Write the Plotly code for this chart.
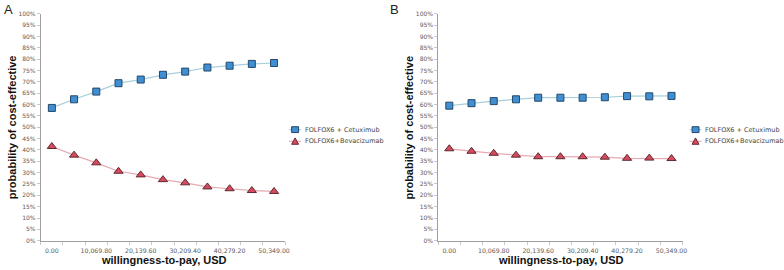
import plotly.graph_objects as go

# ---------------- data ----------------
wtp = [0.00, 5034.90, 10069.80, 15104.70, 20139.60, 25174.50,
       30209.40, 35244.30, 40279.20, 45314.10, 50349.00]
tick_vals = [0.00, 10069.80, 20139.60, 30209.40, 40279.20, 50349.00]
tick_text = ["0.00", "10,069.80", "20,139.60", "30,209.40", "40,279.20", "50,349.00"]

a_cetuximab = [58.5, 62.3, 65.7, 69.4, 71.0, 73.1, 74.5, 76.3, 77.1, 77.9, 78.3]
a_bevacizumab = [41.5, 37.7, 34.3, 30.6, 29.0, 26.9, 25.5, 23.7, 22.9, 22.1, 21.7]
b_cetuximab = [59.5, 60.6, 61.5, 62.3, 63.0, 63.0, 63.0, 63.2, 63.7, 63.6, 63.8]
b_bevacizumab = [40.5, 39.4, 38.5, 37.7, 37.0, 37.0, 37.0, 36.8, 36.3, 36.4, 36.2]

series_names = ["FOLFOX6 + Cetuximub", "FOLFOX6+Bevacizumab"]
y_ticks = list(range(0, 101, 5))
y_ticktext = [f"{v}%" for v in y_ticks]

# ---------------- style ----------------
W, H = 784, 270
BLUE_FILL, BLUE_EDGE, BLUE_LINE = "#3f8fd2", "#24476b", "#a9cfdc"
RED_FILL, RED_EDGE, RED_LINE = "#d64a5e", "#5e2a30", "#e6a9b1"
FONT = "DejaVu Sans"
TITLE_FONT = "Liberation Sans"

def px(x):
    return x / W

def py(y):
    return 1 - y / H

fig = go.Figure()

panels = [
    dict(xa="x", ya="y", dom=(41, 287), c=a_cetuximab, b=a_bevacizumab, label="A", lx=2, leg=297),
    dict(xa="x2", ya="y2", dom=(441, 687), c=b_cetuximab, b=b_bevacizumab, label="B", lx=390, leg=700),
]

step = wtp[1] - wtp[0]
minor_vals = [v - step / 2 for v in wtp] + [wtp[-1] + step / 2]

annotations = []
shapes = []
layout_axes = {}
for i, p in enumerate(panels):
    fig.add_trace(go.Scatter(
        x=wtp, y=p["c"], xaxis=p["xa"], yaxis=p["ya"], mode="lines+markers",
        name=series_names[0], showlegend=False,
        line=dict(color=BLUE_LINE, width=1.2),
        marker=dict(symbol="square", size=7, color=BLUE_FILL,
                    line=dict(color=BLUE_EDGE, width=1)),
    ))
    fig.add_trace(go.Scatter(
        x=wtp, y=p["b"], xaxis=p["xa"], yaxis=p["ya"], mode="lines+markers",
        name=series_names[1], showlegend=False,
        line=dict(color=RED_LINE, width=1.2),
        marker=dict(symbol="triangle-up", size=8, color=RED_FILL,
                    line=dict(color=RED_EDGE, width=1)),
    ))
    suffix = "" if i == 0 else "2"
    layout_axes["xaxis" + suffix] = dict(
        domain=[px(p["dom"][0]), px(p["dom"][1])],
        anchor="y" + suffix,
        range=[wtp[0] - step / 2, wtp[-1] + step / 2],
        tickmode="array", tickvals=tick_vals, ticktext=tick_text,
        ticks="", showgrid=False, zeroline=False, ticklabelstandoff=4,
        showline=True, linecolor="#a0a0a0", linewidth=1,
        tickfont=dict(family=FONT, size=6.2, color="#5a5a5a"),
        minor=dict(tickmode="array", tickvals=minor_vals, ticks="outside",
                   ticklen=3, tickcolor="#c8c8c8", showgrid=False),
        fixedrange=True,
    )
    layout_axes["yaxis" + suffix] = dict(
        domain=[py(243), py(10)],
        anchor="x" + suffix,
        range=[0, 100],
        tickmode="array", tickvals=y_ticks, ticktext=y_ticktext,
        ticks="outside", ticklen=3, tickcolor="#c8c8c8",
        showgrid=False, zeroline=False,
        showline=True, linecolor="#a0a0a0", linewidth=1,
        tickfont=dict(family=FONT, size=6, color="#5a5a5a"),
        fixedrange=True,
    )
    x0, x1 = p["dom"]
    # panel label
    annotations.append(dict(text=p["label"], x=px(p["lx"]), y=py(6), xref="paper", yref="paper",
                            xanchor="left", yanchor="middle", showarrow=False,
                            font=dict(family="Liberation Sans", size=13, color="#222222")))
    # axis titles
    annotations.append(dict(text="<b>probability of cost-effective</b>", x=px(x0 - 29), y=py(126.5),
                            xref="paper", yref="paper", textangle=-90,
                            xanchor="center", yanchor="middle", showarrow=False,
                            font=dict(family=TITLE_FONT, size=11, color="#111111")))
    annotations.append(dict(text="<b>willingness-to-pay, USD</b>", x=px((x0 + x1) / 2 + 1), y=py(263),
                            xref="paper", yref="paper",
                            xanchor="center", yanchor="middle", showarrow=False,
                            font=dict(family=TITLE_FONT, size=11, color="#111111")))
    # legend (drawn manually for compact spacing)
    lx = p["leg"]
    for j, (nm, fill, edge, lc) in enumerate([
        (series_names[0], BLUE_FILL, BLUE_EDGE, BLUE_LINE),
        (series_names[1], RED_FILL, RED_EDGE, RED_LINE),
    ]):
        yy = 129 + 12 * j
        shapes.append(dict(type="line", xref="paper", yref="paper",
                           x0=px(lx - 6), x1=px(lx + 6), y0=py(yy), y1=py(yy),
                           line=dict(color=lc, width=1.2)))
        if j == 0:
            shapes.append(dict(type="rect", xref="paper", yref="paper",
                               x0=px(lx - 3.5), x1=px(lx + 3.5), y0=py(yy + 3), y1=py(yy - 3),
                               fillcolor=fill, line=dict(color=edge, width=1)))
        else:
            path = (f"M {px(lx - 3.5)} {py(yy + 3)} L {px(lx + 3.5)} {py(yy + 3)} "
                    f"L {px(lx)} {py(yy - 3.5)} Z")
            shapes.append(dict(type="path", xref="paper", yref="paper", path=path,
                               fillcolor=fill, line=dict(color=edge, width=1)))
        annotations.append(dict(text=nm, x=px(lx + 8), y=py(yy), xref="paper", yref="paper",
                                xanchor="left", yanchor="middle", showarrow=False,
                                font=dict(family=FONT, size=6.5, color="#444444")))

fig.update_layout(
    width=W, height=H,
    margin=dict(l=0, r=0, t=0, b=0),
    paper_bgcolor="white", plot_bgcolor="white",
    showlegend=False, hovermode=False,
    annotations=annotations, shapes=shapes,
    **layout_axes,
)

fig.write_html("out.html", config={"displayModeBar": False, "staticPlot": True},
               post_script="document.body.style.margin='0';document.body.style.overflow='hidden';")
